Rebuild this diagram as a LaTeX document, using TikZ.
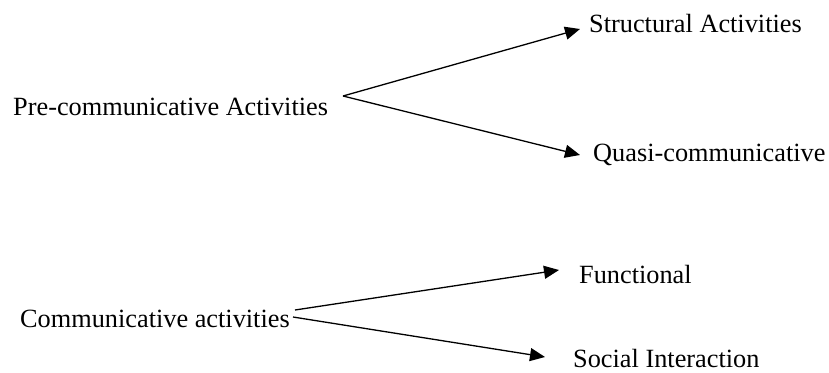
\documentclass[tikz,border=0pt]{standalone}
\usepackage{fontspec}
\setmainfont{Liberation Serif}
\usetikzlibrary{arrows.meta}
\tikzset{lbl/.style={anchor=base west,inner sep=0pt,font=\fontsize{26.3}{30}\selectfont},
	arr/.style={line width=1.3pt,-{Triangle[length=15pt,width=13pt]}}}
\begin{document}
\begin{tikzpicture}[x=1pt,y=-1pt]
			\useasboundingbox (0,0) rectangle (829,372);
			% upper group
			\node[lbl] (pre) at (13,115) {Pre-communicative Activities};
			\node[lbl] (struct) at (589,32) {Structural Activities};
			\node[lbl] (quasi) at (593,161) {Quasi-communicative};
			\coordinate (preR) at (343,96);
			\coordinate (structL) at (580,29);
			\coordinate (quasiL) at (580,155);
			\draw[arr] (preR) -- (structL);
			\draw[arr] (preR) -- (quasiL);
			
			% lower group
			\node[lbl] (comm) at (20,327) {Communicative activities};
			\node[lbl] (func) at (579,283) {Functional};
			\node[lbl] (soc) at (573,367) {Social Interaction};
			\coordinate (commR) at (295,310);
			\coordinate (commR2) at (293,317);
			\coordinate (funcL) at (559,270);
			\coordinate (socL) at (545,357);
			\draw[arr] (commR) -- (funcL);
			\draw[arr] (commR2) -- (socL);
			\end{tikzpicture}
\end{document}
